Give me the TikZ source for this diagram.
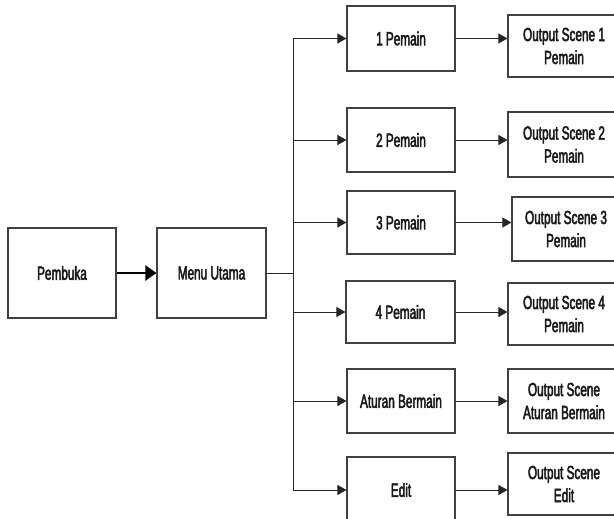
\documentclass[tikz,border=0pt]{standalone}
\usepackage{fontspec}
\setmainfont{Liberation Sans}[FakeStretch=0.62,FakeBold=2.5]
\usetikzlibrary{arrows.meta}
\begin{document}
\begin{tikzpicture}[x=1pt,y=-1pt,
  box/.style={draw=black!75, line width=1.1pt, rectangle, inner sep=0pt, align=center,
    font=\fontsize{19}{23}\selectfont, text=black!90},
  conn/.style={draw=black!85, line width=0.9pt},
  arr/.style={conn, -{Triangle[length=9pt,width=10pt]}},
  bigarr/.style={draw=black, line width=2.4pt, -{Triangle[length=11pt,width=15pt]}}]
\useasboundingbox (0,0) rectangle (614,519);
\clip (0,0) rectangle (614,519);
% left boxes
\node[box, minimum width=108pt, minimum height=90pt] (pembuka) at (62,273) {Pembuka};
\node[box, minimum width=109pt, minimum height=90pt] (menu) at (211.5,273) {Menu Utama};
% middle column
\node[box, minimum width=108pt, minimum height=65pt] (p1) at (401,38.5) {1 Pemain};
\node[box, minimum width=108pt, minimum height=64pt] (p2) at (401,140) {2 Pemain};
\node[box, minimum width=108pt, minimum height=63pt] (p3) at (401,222.5) {3 Pemain};
\node[box, minimum width=109pt, minimum height=62pt] (p4) at (400.5,312) {4 Pemain};
\node[box, minimum width=108pt, minimum height=64pt] (pa) at (401,401) {Aturan Bermain};
\node[box, minimum width=108pt, minimum height=66pt] (pe) at (401,490) {Edit};
% output column
\node[box, minimum width=112pt, minimum height=62pt] (o1) at (564,46) {Output Scene 1\\Pemain};
\node[box, minimum width=112pt, minimum height=65pt] (o2) at (564,144.5) {Output Scene 2\\Pemain};
\node[box, minimum width=108pt, minimum height=64pt] (o3) at (566,229) {Output Scene 3\\Pemain};
\node[box, minimum width=112pt, minimum height=62pt] (o4) at (564,314) {Output Scene 4\\Pemain};
\node[box, minimum width=112pt, minimum height=64pt] (oa) at (564,401) {Output Scene\\Aturan Bermain};
\node[box, minimum width=112pt, minimum height=62pt] (oe) at (564,484) {Output Scene\\Edit};
% bus
\coordinate (bus) at (293,273);
\coordinate (bustop) at (293,38.5);
\coordinate (busbot) at (293,490);
\draw[bigarr] (pembuka.east) -- (menu.west);
\draw[conn] (menu.east) -- (bus);
\draw[conn] (bustop) -- (busbot);
\foreach \n in {p1,p2,p3,p4,pa,pe}{
  \draw[arr] (bustop |- \n.west) -- (\n.west);
}
\draw[arr] (p1.east) -- (p1.east -| o1.west);
\draw[arr] (p2.east) -- (p2.east -| o2.west);
\draw[arr] (p3.east) -- (p3.east -| o3.west);
\draw[arr] (p4.east) -- (p4.east -| o4.west);
\draw[arr] (pa.east) -- (pa.east -| oa.west);
\draw[arr] (pe.east) -- (pe.east -| oe.west);
\end{tikzpicture}
\end{document}
